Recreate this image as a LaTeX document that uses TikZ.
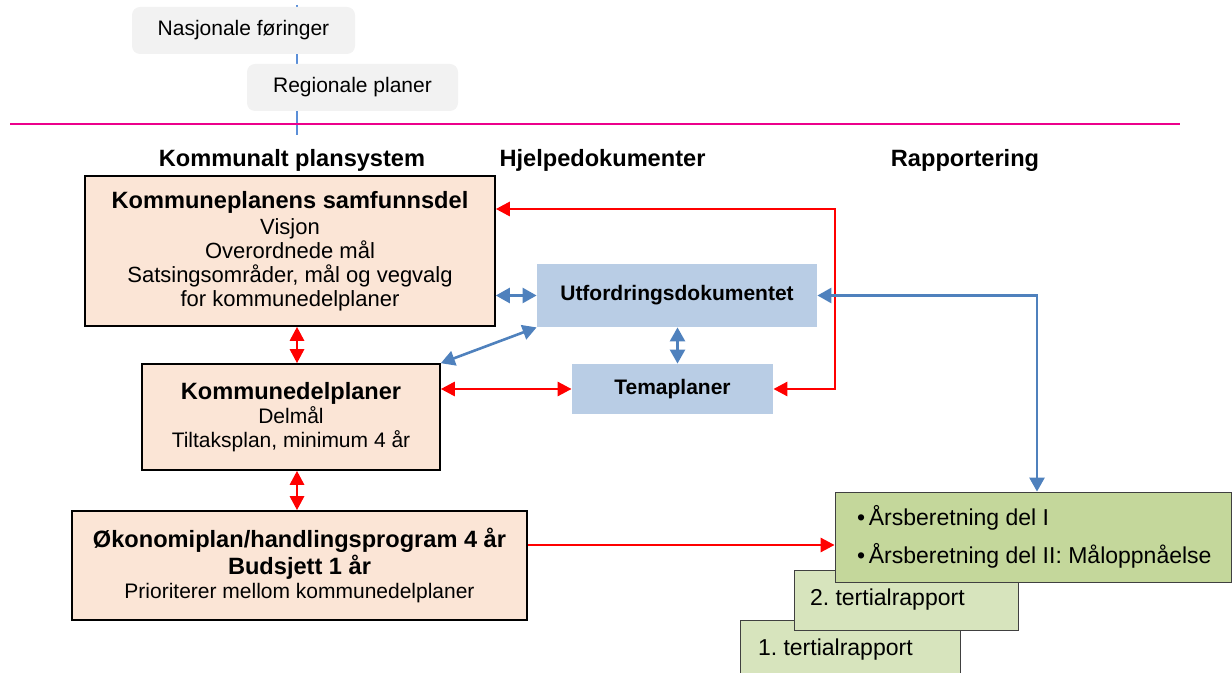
\documentclass[tikz,border=0pt]{standalone}
\usepackage{fontspec}
\setmainfont{Liberation Sans}
\usepackage{tikz}
\definecolor{hud}{HTML}{FBE5D6}
\definecolor{lyseblaa}{HTML}{B9CDE5}
\definecolor{gronn}{HTML}{C4D79B}
\definecolor{lysgronn}{HTML}{D7E4BD}
\definecolor{pil}{HTML}{4F81BD}
\definecolor{strek}{HTML}{5B8FD8}
\definecolor{lysgraa}{HTML}{F2F2F2}
\definecolor{kant}{HTML}{404040}
\usetikzlibrary{arrows.meta}
\newcommand{\tittel}[1]{{\fontsize{11.8}{13}\selectfont\bfseries #1}}
\tikzset{plan/.style={
    draw=black,
    thick,
    fill=hud,
    align=center,
    inner sep=0}}
\tikzset{hjelp/.style={
    fill=lyseblaa,
    font=\fontsize{10.5}{12}\selectfont\bfseries,
    inner sep=0}}
\tikzset{rapport/.style={
    draw=kant,
    fill=lysgronn,
    align=flush left,
    font=\fontsize{11.5}{14}\selectfont,
    inner sep=0}}
\tikzset{foring/.style={
    fill=lysgraa,
    rounded corners=4pt,
    inner sep=0}}
\tikzset{rodpil/.style={
    red,
    line width=1.4pt,
    {Triangle[length=7pt,width=7pt]}-{Triangle[length=7pt,width=7pt]}}}
\tikzset{rodpilen/.style={
    red,
    line width=1.4pt,
    -{Triangle[length=7pt,width=7pt]}}}
\tikzset{blapil/.style={
    pil,
    line width=1.3pt,
    {Triangle[length=7pt,width=7.5pt]}-{Triangle[length=7pt,width=7.5pt]}}}

\begin{document}
\frenchspacing
\begin{tikzpicture}[x=0.5pt, y=-0.5pt,
  every node/.style={font=\fontsize{10.5}{12}\selectfont}]
  \clip (0,0) rectangle (1232,673);

  \coordinate (NAS) at (243.5,30.5);
\coordinate (REG) at (352.5,87.5);
\coordinate (KPS) at (290,251);
\coordinate (UTF) at (677,295.5);
\coordinate (TEMA) at (672.5,389);
\coordinate (KDP) at (291,417);
\coordinate (OKO) at (299.5,565.5);
\coordinate (AARS) at (1033,537);
\coordinate (T2) at (906,600);
\coordinate (T1) at (850,650);

% over kommunen
\coordinate (stopp) at (297,5);
\coordinate (sbunn) at (297,135);
\draw[strek, line width=1.2pt] (stopp) -- (sbunn);

\node[foring,
  minimum width=111.5pt,
  minimum height=23.5pt] (nas) at (NAS) {Nasjonale føringer};

\node[foring,
  minimum width=105.5pt,
  minimum height=23.5pt] (reg) at (REG) {Regionale planer};

\coordinate (mv) at (10,124);
\coordinate (mh) at (1180,124);
\draw[magenta, line width=0.7pt] (mv) -- (mh);

% overskrifter
\node (h1) at (292,160) {\tittel{Kommunalt plansystem}};
\node (h2) at (602.5,160) {\tittel{Hjelpedokumenter}};
\node (h3) at (965,160) {\tittel{Rapportering}};

% planer
\node[plan,
  minimum width=205pt,
  minimum height=75pt] (kps) at (KPS)
  {\tittel{Kommuneplanens samfunnsdel}\\[1pt]
   {\fontsize{11}{12}\selectfont Visjon}\\
   {\fontsize{11}{12}\selectfont Overordnede mål}\\
   {\fontsize{11}{12}\selectfont Satsingsområder, mål og vegvalg}\\
   {\fontsize{11}{12}\selectfont for kommunedelplaner}};

\node[plan,
  minimum width=149pt,
  minimum height=53pt] (kdp) at (KDP)
  {\tittel{Kommunedelplaner}\\Delmål\\Tiltaksplan, minimum 4 år};

\node[plan,
  minimum width=227.5pt,
  minimum height=54.5pt] (oko) at (OKO)
  {\tittel{Økonomiplan/handlingsprogram 4 år}\\\tittel{Budsjett 1 år}\\
   Prioriterer mellom kommunedelplaner};

% hjelpedokumenter
\node[hjelp,
  minimum width=140pt,
  minimum height=31.5pt] (utf) at (UTF) {Utfordringsdokumentet};

\node[hjelp,
  minimum width=100.5pt,
  minimum height=25pt] (tema) at (TEMA) {Temaplaner};

% rapportering
\node[rapport,
  minimum height=30pt,
  text width=92pt,
  inner xsep=9pt] (t1) at (T1) {1. tertialrapport};

\node[rapport,
  minimum height=30pt,
  text width=96pt,
  inner xsep=8pt] (t2) at (T2) {2. tertialrapport};

\node[rapport,
  fill=gronn,
  minimum height=45pt,
  text width=192pt,
  inner xsep=3pt] (aars) at (AARS)
  {\hspace*{8pt}\textbullet\,Årsberetning del I\\[5pt]
   \hspace*{8pt}\textbullet\,Årsberetning del II: Måloppnåelse};

% piler
\coordinate (rtopp) at (835,209);
\draw[rodpil] (tema.east) -| (rtopp) -- (kps.east |- rtopp);
\draw[rodpil] (kdp.east |- tema.west) -- (tema.west);
\draw[rodpil] (kdp.north -| 297,0) -- (kps.south -| 297,0);
\draw[rodpil] (oko.north -| 297,0) -- (kdp.south -| 297,0);
\draw[rodpilen] (oko.east |- 0,545) -- (aars.west |- 0,545);

\draw[blapil] (kps.east |- utf.west) -- (utf.west);
\draw[blapil] (kdp.north east) -- (utf.south west);
\draw[blapil] (utf.south -| tema.north) ++(5,0) coordinate (ut) (ut) -- (ut |- tema.north);
\draw[blapil] (utf.east) -| ([xshift=2pt]aars.north);
\end{tikzpicture}
\end{document}
